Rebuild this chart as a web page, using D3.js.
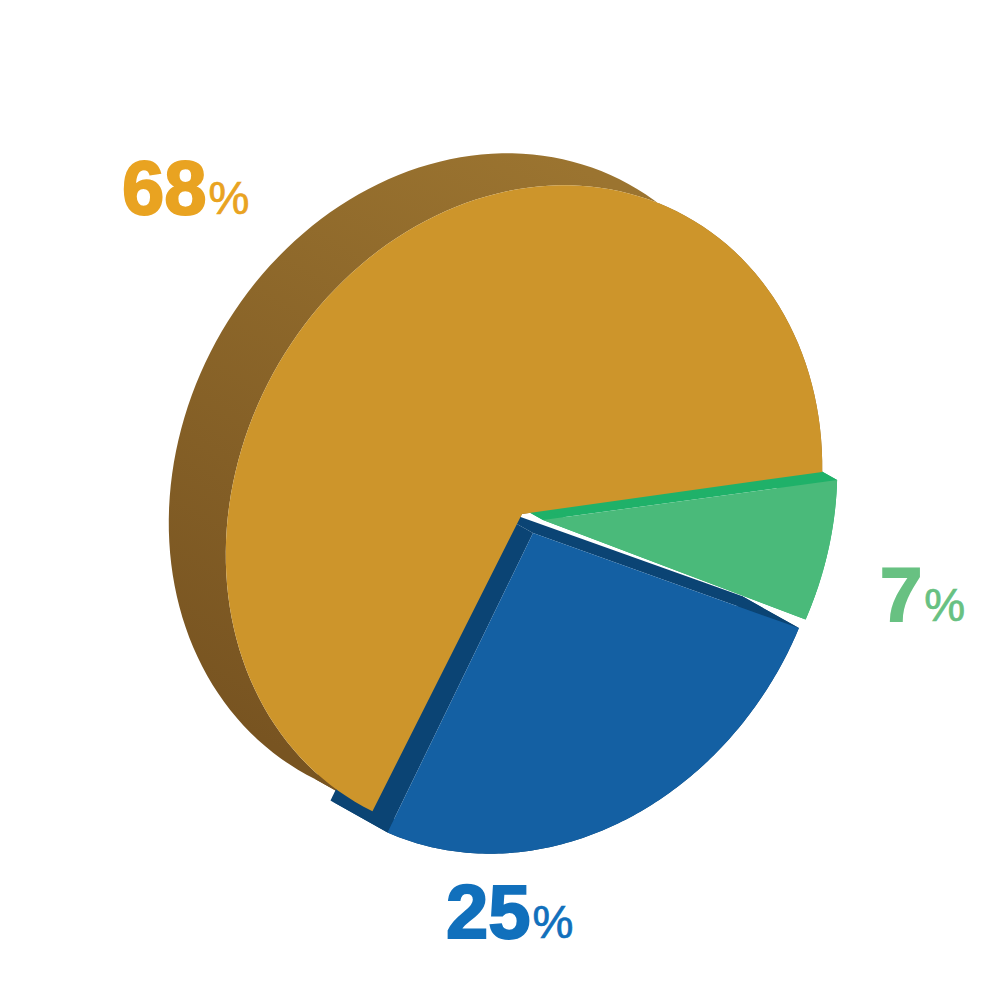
<!DOCTYPE html>
<html>
<head>
<meta charset="utf-8">
<style>
  html, body { margin: 0; background: #fff; }
  text { font-family: "Liberation Sans", Arial, sans-serif; font-weight: 700; }
</style>
</head>
<body>
<svg id="chart" width="1000" height="1000"></svg>
<script src="https://cdn.jsdelivr.net/npm/d3@7"></script>
<script>
const categories = ['green', 'blue', 'orange'];
const shares = [7, 25, 68];
const tickLabels = ['7', '25', '68'];

// styles and layout, one entry per category
const faceColors = ['#4aba7a', '#1460a3', '#cd952b'];
const wallColors = ['#1fb169', '#0b4474', 'url(#brownWall)'];
const labelColors = ['#68c182', '#1170bc', '#e9a321'];
const rimCenters = [[539, 514], [530, 528], [524, 511]];
const apexes = [[543, 520], [533, 533], [522, 514]];
// the source drawing is a little off true angles, degrees added to each slice's start/end
const angleTrim = [[0, -0.3], [-1.3, 1.6], [3.6, -0.9]];
const labelPos = [[880, 621], [446, 938], [122, 214]];

// the circle is sheared into the tilted ellipse with this matrix
const skewA = 297.5, skewB = -21, skewC = 325;
const depth = [-57, -32];
const toRad = Math.PI / 180;

const svg = d3.select('#chart');

const grad = svg.append('defs').append('linearGradient')
  .attr('id', 'brownWall')
  .attr('gradientUnits', 'userSpaceOnUse')
  .attr('x1', 560).attr('y1', 155)
  .attr('x2', 230).attr('y2', 720);
grad.append('stop').attr('offset', 0).attr('stop-color', '#9b7430');
grad.append('stop').attr('offset', 1).attr('stop-color', '#785421');

const pie = d3.pie()
  .sort(null)
  .startAngle(87.7 * toRad)
  .endAngle((87.7 + 360) * toRad);

const slices = pie(shares).map((d, i) => ({
  name: categories[i],
  start: d.startAngle + angleTrim[i][0] * toRad,
  end: d.endAngle + angleTrim[i][1] * toRad,
  center: rimCenters[i],
  apex: apexes[i],
  face: faceColors[i],
  wall: wallColors[i]
}));

function rimPoints(s) {
  const steps = 120;
  return d3.range(steps + 1).map((i) => {
    const a = s.start + (s.end - s.start) * i / steps;
    const u = Math.sin(a), v = -Math.cos(a);
    return [s.center[0] + skewA * u + skewB * v, s.center[1] + skewB * u + skewC * v];
  });
}

function ribbon(front) {
  const back = front.map((p) => [p[0] + depth[0], p[1] + depth[1]]).reverse();
  return d3.line()(front.concat(back)) + 'Z';
}

function wallPaths(s) {
  const rim = rimPoints(s);
  return [ribbon(rim), ribbon([s.apex, rim[0]]), ribbon([s.apex, rim[rim.length - 1]])];
}

const byName = (n) => slices.find((s) => s.name === n);

// orange wall sits at the back, orange face covers the inner part of the other walls
svg.append('g')
  .selectAll('g')
  .data(['orange', 'blue', 'green'].map(byName))
  .join('g')
  .attr('fill', (d) => d.wall)
  .selectAll('path')
  .data((d) => wallPaths(d))
  .join('path')
  .attr('d', (d) => d);

svg.append('g')
  .selectAll('path')
  .data(['blue', 'green', 'orange'].map(byName))
  .join('path')
  .attr('d', (d) => d3.line()([d.apex, ...rimPoints(d)]) + 'Z')
  .attr('fill', (d) => d.face);

const labels = svg.append('g')
  .selectAll('text')
  .data(tickLabels)
  .join('text')
  .attr('x', (d, i) => labelPos[i][0])
  .attr('y', (d, i) => labelPos[i][1])
  .attr('fill', (d, i) => labelColors[i])
  .attr('stroke', (d, i) => labelColors[i])
  .attr('stroke-width', 2)
  .attr('font-size', 76)
  .text((d) => d);

labels.append('tspan')
  .attr('font-size', 46)
  .attr('font-weight', 400)
  .attr('stroke-width', 0.7)
  .attr('dx', 2)
  .text('%');
</script>
</body>
</html>
